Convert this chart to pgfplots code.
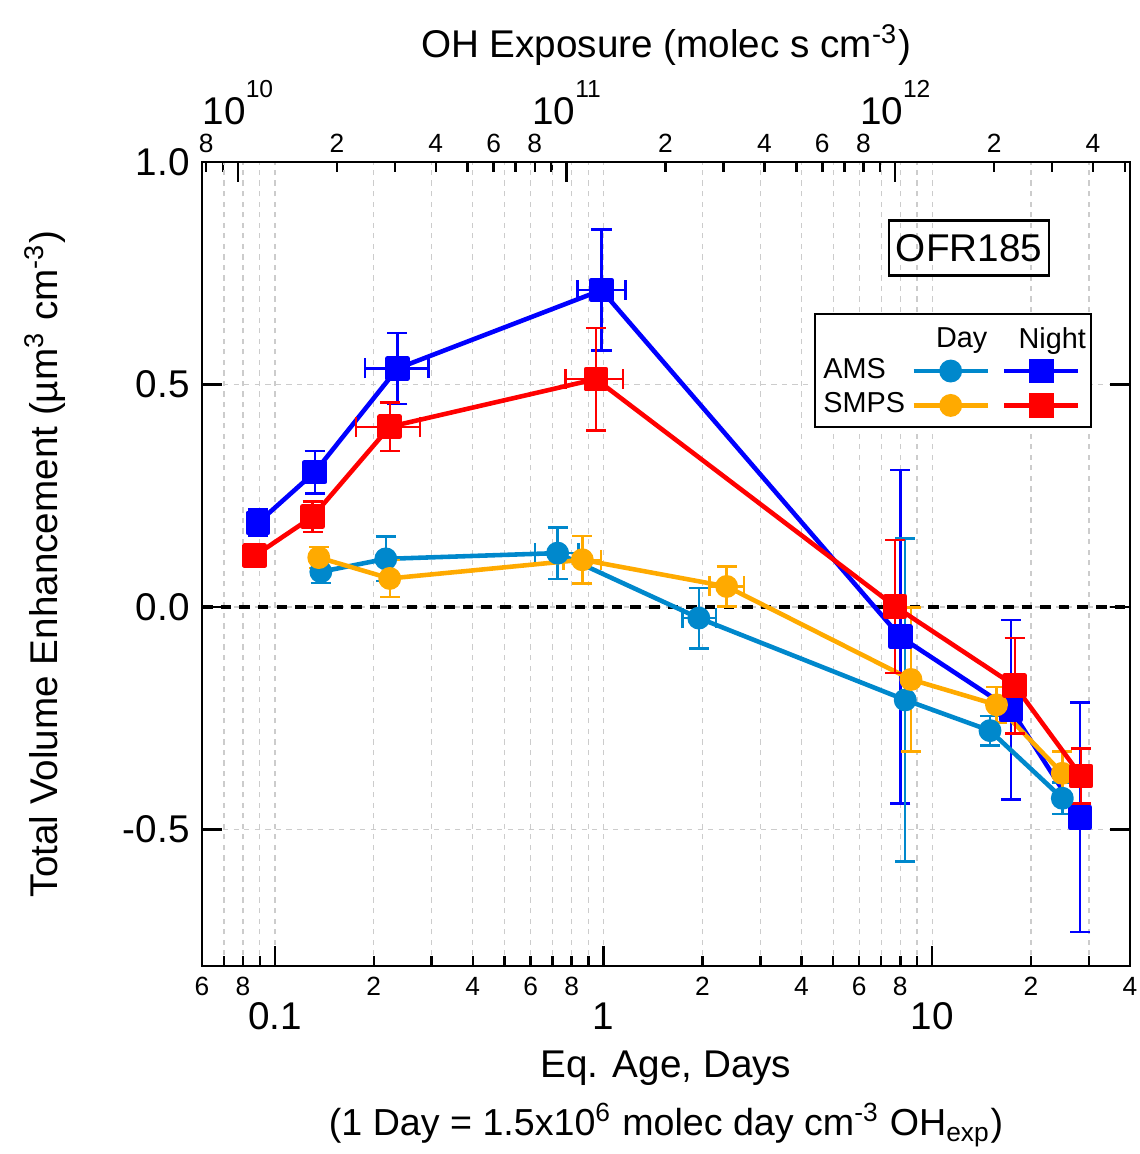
\documentclass[border=0pt]{standalone}
\usepackage{fontspec}
\setmainfont{Liberation Sans}
\usepackage{pgfplots}
\usepackage{pgfplotstable}
\pgfplotsset{compat=1.18}

\definecolor{amsday}{RGB}{0,136,204}
\definecolor{smpsday}{RGB}{255,170,0}
\definecolor{amsnight}{RGB}{0,0,255}
\definecolor{smpsnight}{RGB}{255,0,0}

\newcommand{\fbig}{\fontsize{11}{13}\selectfont}
\newcommand{\fsml}{\fontsize{7.5}{9}\selectfont}
\newcommand{\fleg}{\fontsize{8.2}{10}\selectfont}
\newcommand{\fexp}{\fontsize{7}{8}\selectfont}

% x = eq. age (days), y = volume enhancement, xp/xm = x errors, ey = y error
\pgfplotstableread{
x       y       xp     xm     ey
0.0888  0.189   0      0      0.030
0.1322  0.303   0      0      0.048
0.236   0.536   0.057  0.048  0.080
0.986   0.712   0.180  0.152  0.136
8.0    -0.067   0      0      0.375
17.4   -0.231   0      0      0.202
28.2   -0.473   0      0      0.258
}\amsnight
\pgfplotstableread{
x       y       xp     xm     ey
0.0868  0.115   0      0      0.010
0.1303  0.203   0      0      0.034
0.2236  0.405   0.053  0.047  0.054
0.948   0.512   0.199  0.181  0.115
7.72    0.001   0      0      0.150
17.84  -0.177   0      0      0.107
28.4   -0.380   0      0      0.062
}\smpsnight
\pgfplotstableread{
x       y       xp     xm     ey
0.138   0.079   0      0      0.025
0.2175  0.108   0      0      0.050
0.725   0.121   0.113  0.107  0.058
1.95   -0.025   0.25   0.21   0.068
8.28   -0.209   0.35   0.30   0.363
15.0   -0.278   0      0      0.033
24.9   -0.430   0      0      0.035
}\amsday
\pgfplotstableread{
x       y       xp     xm     ey
0.136   0.111   0      0      0.024
0.2236  0.064   0      0      0.042
0.862   0.106   0.119  0.107  0.053
2.37    0.046   0.31   0.27   0.045
8.62   -0.163   0      0      0.162
15.7   -0.220   0      0      0.040
24.9   -0.374   0      0      0.049
}\smpsday

\pgfplotsset{
  lineleg/.style={legend image code/.code={
    \draw[mark repeat=2,mark phase=2] plot coordinates {(0cm,0cm) (0.37cm,0cm) (0.74cm,0cm)};}},
  headleg/.style={legend image code/.code={
    \path (0.37cm,0.2cm);
    \node[font=\fleg, inner sep=0pt] at (0.48cm,0cm) {#1};}},
  series/.style={#1, line width=1.3pt, line join=round,
    error bars/x dir=both, error bars/x explicit,
    error bars/y dir=both, error bars/y explicit,
    error bars/error bar style={line width=0.7pt},
    error bars/error mark options={rotate=90, line width=0.7pt, mark size=2.85pt}},
}

\begin{document}
\begin{tikzpicture}
\useasboundingbox (-2.02cm,-1.88cm) rectangle (9.38cm,9.66cm);
% top axis: OH exposure
\begin{axis}[
  at={(0,0)}, anchor=south west,
  scale only axis, width=9.28cm, height=8.04cm,
  xmode=log, xmin=7.776e9, xmax=5.184e12, ymin=0, ymax=1,
  hide y axis,
  axis line style={line width=0.7pt},
  tick style={black, line width=0.7pt},
  tick align=inside,
  major tick length=0.2cm, minor tick length=0.1cm,
  xtick pos=right, xticklabel pos=right,
  xtick={1e10,1e11,1e12},
  xticklabels={10\raisebox{0.72em}{\fexp 10},10\raisebox{0.72em}{\fexp 11},10\raisebox{0.72em}{\fexp 12}},
  minor xtick={9e9,3e10,5e10,7e10,9e10,3e11,5e11,7e11,9e11,3e12,5e12},
  extra x ticks={8e9,2e10,4e10,6e10,8e10,2e11,4e11,6e11,8e11,2e12,4e12},
  extra x tick labels={8,2,4,6,8,2,4,6,8,2,4},
  extra x tick style={major tick length=0.1cm, xticklabel style={font=\fsml, yshift=-0.275cm}},
  xticklabel style={font=\fbig, anchor=base, yshift=0.37cm},
]
\addplot[draw=none, forget plot] coordinates {(1e11,0.5)};
\end{axis}
% main axis: eq. age
\begin{axis}[
  name=main,
  at={(0,0)}, anchor=south west,
  scale only axis, width=9.28cm, height=8.04cm,
  xmode=log, xmin=0.06, xmax=40, ymin=-0.807, ymax=1.0,
  axis line style={line width=0.7pt},
  tick style={black, line width=0.7pt},
  tick align=inside,
  major tick length=0.2cm, minor tick length=0.1cm,
  xtick pos=left, xticklabel pos=left,
  xtick={0.1,1,10}, xticklabels={0.1,1,10},
  minor xtick={0.07,0.08,0.09,0.2,0.3,0.4,0.5,0.6,0.7,0.8,0.9,2,3,4,5,6,7,8,9,20,30},
  extra x ticks={0.06,0.08,0.2,0.4,0.6,0.8,2,4,6,8,20,40},
  extra x tick labels={6,8,2,4,6,8,2,4,6,8,2,4},
  extra x tick style={grid=none, major tick length=0.1cm, xticklabel style={font=\fsml, yshift=0.34cm}},
  xticklabel style={font=\fbig, anchor=base, yshift=-0.63cm},
  ytick={-0.5,0,0.5},
  extra y ticks={1},
  extra y tick style={grid=none},
  yticklabel style={font=\fbig, /pgf/number format/fixed, /pgf/number format/fixed zerofill,
    /pgf/number format/precision=1, /pgf/number format/assume math mode=true},
  grid=both,
  major grid style={gray!40, line width=0.35pt, dash pattern=on 1.5pt off 1.5pt},
  minor grid style={gray!40, line width=0.35pt, dash pattern=on 1.5pt off 1.5pt},
  ylabel={Total Volume Enhancement (µm\textsuperscript{3} cm\textsuperscript{-3})},
  ylabel style={font=\fbig, at={(axis description cs:-0.169,0.5)}, anchor=center},
  xlabel={Eq. Age, Days},
  xlabel style={font=\fbig, at={(axis description cs:0.5,0)}, anchor=center, yshift=-1.02cm},
  legend columns=2,
  legend plot pos=right,
  legend style={at={(0.959,0.812)}, anchor=north east, draw=black, line width=0.6pt,
    font=\fleg, column sep=0.03cm, row sep=0.01cm, inner xsep=0.05cm, inner ysep=0.05cm,
    nodes={inner xsep=0.03cm, inner ysep=0.04cm}},
]
\addplot[black, line width=1.2pt, dash pattern=on 3pt off 2.3pt, forget plot] coordinates {(0.06,0) (40,0)};

\addplot[series=amsnight, mark=square*, mark size=2.85pt, forget plot]
  table[x=x, y=y, x error plus=xp, x error minus=xm, y error=ey] {\amsnight};
\addplot[series=amsday, mark=*, mark size=2.6pt, forget plot]
  table[x=x, y=y, x error plus=xp, x error minus=xm, y error=ey] {\amsday};
\addplot[series=smpsday, mark=*, mark size=2.6pt, forget plot]
  table[x=x, y=y, x error plus=xp, x error minus=xm, y error=ey] {\smpsday};
\addplot[series=smpsnight, mark=square*, mark size=2.85pt, forget plot]
  table[x=x, y=y, x error plus=xp, x error minus=xm, y error=ey] {\smpsnight};

\addlegendimage{headleg=Day}
\addlegendentry{}
\addlegendimage{headleg=Night}
\addlegendentry{}
\addlegendimage{amsday, line width=1.3pt, mark=*, mark size=2.6pt, lineleg}
\addlegendentry{\makebox[0.82cm][l]{AMS}}
\addlegendimage{amsnight, line width=1.3pt, mark=square*, mark size=2.85pt, lineleg}
\addlegendentry{}
\addlegendimage{smpsday, line width=1.3pt, mark=*, mark size=2.6pt, lineleg}
\addlegendentry{\makebox[0.82cm][l]{SMPS}}
\addlegendimage{smpsnight, line width=1.3pt, mark=square*, mark size=2.85pt, lineleg}
\addlegendentry{}

\node[draw=black, line width=0.6pt, font=\fbig, inner xsep=2pt, minimum height=0.55cm]
  at (rel axis cs:0.8265,0.893) {OFR185};
\end{axis}
\node[font=\fontsize{10.7}{13}\selectfont, yshift=-1.59cm] at (main.south) {(1 Day = 1.5x10\textsuperscript{6} molec day cm\textsuperscript{-3} OH\textsubscript{exp})};
\node[font=\fbig, yshift=1.17cm] at (main.north) {OH Exposure (molec s cm\textsuperscript{-3})};
\end{tikzpicture}
\end{document}
